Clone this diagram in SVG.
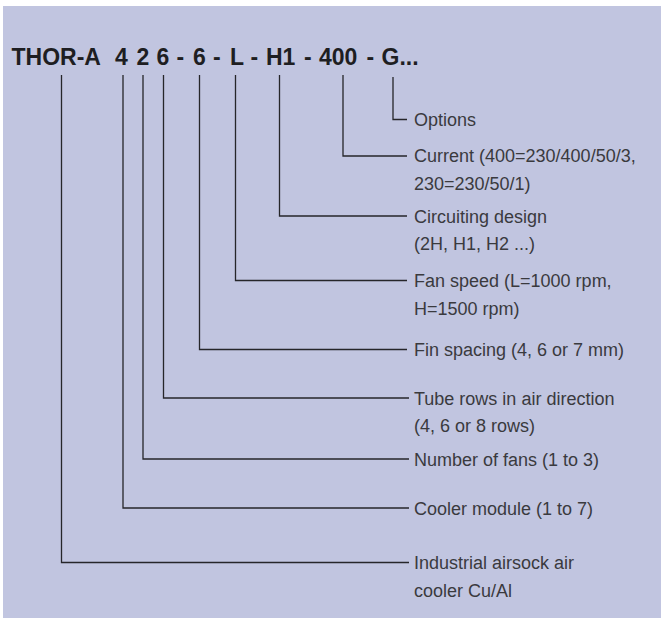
<svg xmlns="http://www.w3.org/2000/svg" width="662" height="619" viewBox="0 0 662 619">
  <style>
    .bg { fill: #c1c5e0; }
    .code { font-family: "Liberation Sans", Arial, sans-serif; font-weight: bold; font-size: 23px; fill: #1e1e22; }
    .lbl { font-family: "Liberation Sans", Arial, sans-serif; font-size: 18px; fill: #3a3a3e; }
    .conn { fill: none; stroke: #26262a; stroke-width: 1.3; }
  </style>
  <rect class="bg" x="3" y="6" width="658" height="612"/>
  <g id="code">
    <text class="code" y="65"><tspan x="11.5">THOR-A</tspan><tspan x="115">4</tspan><tspan x="136.5">2</tspan><tspan x="156.5">6</tspan><tspan x="176.5">-</tspan><tspan x="193">6</tspan><tspan x="213">-</tspan><tspan x="230">L</tspan><tspan x="250.5">-</tspan><tspan x="266">H1</tspan><tspan x="304">-</tspan><tspan x="319">400</tspan><tspan x="366.5">-</tspan><tspan x="381.5">G...</tspan></text>
  </g>
  <g id="connectors">
    <polyline class="conn" points="393,77 393,119.5 407,119.5"/>
    <polyline class="conn" points="343,75 343,156 407,156"/>
    <polyline class="conn" points="279.5,75 279.5,216 407,216"/>
    <polyline class="conn" points="235.5,75 235.5,280.5 407,280.5"/>
    <polyline class="conn" points="199.5,75 199.5,349.5 407,349.5"/>
    <polyline class="conn" points="163.5,75 163.5,398 409,398"/>
    <polyline class="conn" points="143,75 143,459 409,459"/>
    <polyline class="conn" points="123,75 123,508 409,508"/>
    <polyline class="conn" points="61.5,75 61.5,562.5 409,562.5"/>
  </g>
  <g id="options"><text class="lbl" x="414" y="126">Options</text></g>
  <g id="current"><text class="lbl" x="414" y="162">Current (400=230/400/50/3,</text><text class="lbl" x="414" y="189.5">230=230/50/1)</text></g>
  <g id="circuiting"><text class="lbl" x="414" y="222.5">Circuiting design</text><text class="lbl" x="414" y="250">(2H, H1, H2 ...)</text></g>
  <g id="fan-speed"><text class="lbl" x="414" y="287">Fan speed (L=1000 rpm,</text><text class="lbl" x="414" y="314.5">H=1500 rpm)</text></g>
  <g id="fin-spacing"><text class="lbl" x="414" y="356">Fin spacing (4, 6 or 7 mm)</text></g>
  <g id="tube-rows"><text class="lbl" x="414" y="404.5">Tube rows in air direction</text><text class="lbl" x="414" y="432">(4, 6 or 8 rows)</text></g>
  <g id="fans"><text class="lbl" x="414" y="465.5">Number of fans (1 to 3)</text></g>
  <g id="cooler-module"><text class="lbl" x="414" y="514.5">Cooler module (1 to 7)</text></g>
  <g id="industrial"><text class="lbl" x="414" y="569">Industrial airsock air</text><text class="lbl" x="414" y="596.5">cooler Cu/Al</text></g>
</svg>
